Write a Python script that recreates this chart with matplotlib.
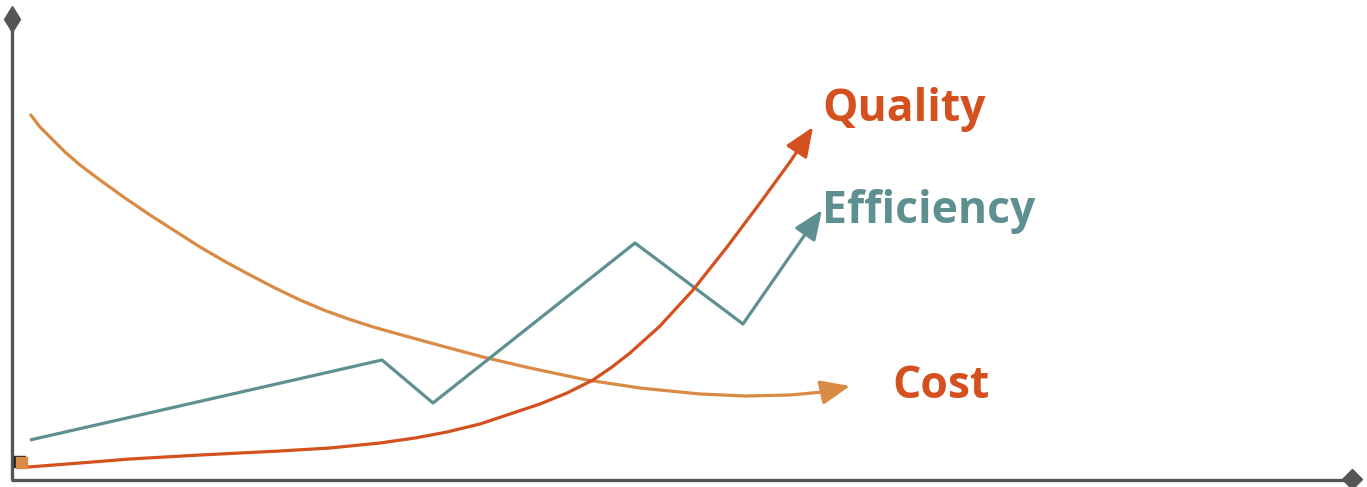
import matplotlib
matplotlib.use("Agg")
import matplotlib.pyplot as plt
from matplotlib.patches import FancyArrowPatch, Rectangle

H = 487  # canvas height; values below are heights above the bottom edge

# Efficiency (polyline)
eff_x = [30, 382, 433, 635, 743, 822]
eff_y = [H - v for v in [440, 360, 403, 243, 324, 210]]

# Quality (rising curve)
qual_x = [28, 80, 130, 200, 280, 330, 380, 415, 447, 480, 513, 540, 567, 593, 612, 630, 660, 693, 727, 760, 790, 813]
qual_y = [H - v for v in [467, 463, 459, 455, 451, 448, 443, 438, 432, 424, 413, 404, 393, 380, 367, 353, 326, 290, 247, 203, 162, 127]]

# Cost (falling curve)
cost_x = [30, 40, 53, 65, 80, 100, 125, 150, 175, 200, 225, 250, 275, 300, 325, 350, 375, 400, 440, 483, 530, 587, 640, 700, 745, 790, 823, 850]
cost_y = [H - v for v in [114, 127, 140, 152, 165, 180, 198, 215, 231, 247, 261.5, 275, 288, 300, 310.5, 319.5, 327.5, 334.5, 345.5, 357, 368, 380, 388, 394, 396, 395, 392, 386]]

labels = ["Quality", "Efficiency", "Cost"]
label_x = [822, 822, 892]
label_y = [H - v for v in [109, 211, 386]]

c_eff = "#5e8f91"
c_qual = "#d4501e"
c_cost = "#d98a45"
c_axis = "#555555"

fig = plt.figure(figsize=(13.67, 4.87), dpi=100)
ax = fig.add_axes([0, 0, 1, 1])
ax.set_xlim(0, 1367)
ax.set_ylim(0, H)
ax.axis("off")

# axes with diamond ends
ax.plot([12, 12], [7, 465], color=c_axis, lw=2.4, solid_capstyle="butt", zorder=2)
ax.plot([11, 1350], [7, 7], color=c_axis, lw=2.4, solid_capstyle="butt", zorder=2)
ax.plot([12], [468], marker="d", markersize=13, color=c_axis, zorder=3)
ax.plot([1352], [8], marker="D", markersize=10, color=c_axis, zorder=3)

LW = 2.3

def draw(xs, ys, color):
    ax.plot(xs[:-1], ys[:-1], color=color, lw=LW, solid_joinstyle="round",
            solid_capstyle="butt", zorder=4)
    arr = FancyArrowPatch((xs[-2], ys[-2]), (xs[-1], ys[-1]),
                          arrowstyle="-|>,head_length=1.8,head_width=0.75",
                          mutation_scale=10, color=color, lw=LW,
                          shrinkA=0, shrinkB=0, zorder=4)
    ax.add_patch(arr)

draw(cost_x, cost_y, c_cost)
draw(eff_x, eff_y, c_eff)
draw(qual_x, qual_y, c_qual)

# small marker square near origin
ax.add_patch(Rectangle((14, 20), 11, 11, color="#222222", zorder=5))
ax.add_patch(Rectangle((16, 19), 11, 11, color=c_cost, zorder=6))

colors = [c_qual, c_eff, c_qual]
for t, x, y, c in zip(labels, label_x, label_y, colors):
    ax.text(x, y, t, color=c, fontsize=32, fontweight="bold",
            family=["Open Sans", "DejaVu Sans"],
            ha="left", va="center", zorder=5)

fig.savefig("out.png", dpi=100)
